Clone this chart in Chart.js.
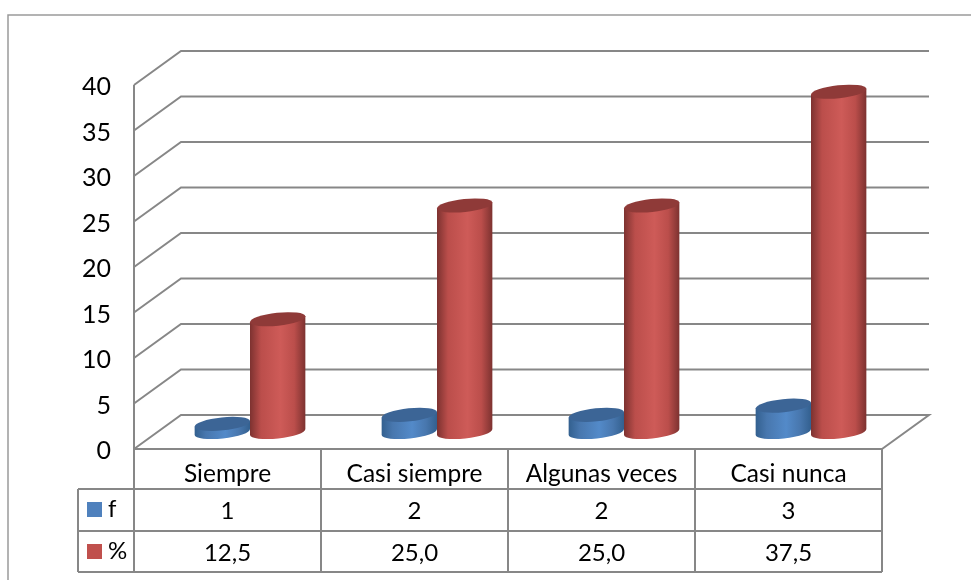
<!DOCTYPE html>
<html>
<head>
<meta charset="utf-8">
<script src="https://cdn.jsdelivr.net/npm/chart.js@4/dist/chart.umd.min.js"></script>
<style>
html, body { margin: 0; padding: 0; background: #fff; overflow: hidden; }
canvas { display: block; }
</style>
</head>
<body>
<canvas id="grafico" width="971" height="580"></canvas>
<script>
// datos
var categorias = ["Siempre", "Casi siempre", "Algunas veces", "Casi nunca"];
var valoresF = [1, 2, 2, 3];
var valoresPct = [12.5, 25.0, 25.0, 37.5];
var textosF = ["1", "2", "2", "3"];
var textosPct = ["12,5", "25,0", "25,0", "37,5"];

// estilo
var GRIS = "#878787";
var FUENTE = "Lato";
var FONDO_X = 47, FONDO_Y = 34; // profundidad del piso 3D
var INCLINA = 0.105;

function linea(ctx, puntos) {
  ctx.beginPath();
  ctx.moveTo(puntos[0][0], puntos[0][1]);
  for (var i = 1; i < puntos.length; i++) ctx.lineTo(puntos[i][0], puntos[i][1]);
  ctx.stroke();
}

function degradado(ctx, x0, x1, c) {
  var g = ctx.createLinearGradient(x0, 0, x1, 0);
  g.addColorStop(0, c[0]);
  g.addColorStop(0.2, c[1]);
  g.addColorStop(0.55, c[2]);
  g.addColorStop(0.8, c[1]);
  g.addColorStop(1, c[0]);
  return g;
}

// cilindro a partir de la barra que calcula Chart.js
function cilindro(ctx, barra, col) {
  var cx = barra.x + 22.5;
  var top = barra.y - 16;
  var base = barra.base - 17;
  var rx = barra.width / 2;
  var ry = 6.5;
  var sube = rx * Math.tan(INCLINA);

  ctx.beginPath();
  ctx.moveTo(cx - rx, top + sube);
  ctx.lineTo(cx - rx, base + sube);
  ctx.ellipse(cx, base, rx / Math.cos(INCLINA), ry, -INCLINA, Math.PI, 0, true);
  ctx.lineTo(cx + rx, top - sube);
  ctx.closePath();
  ctx.fillStyle = degradado(ctx, cx - rx, cx + rx, col.lados);
  ctx.fill();

  ctx.beginPath();
  ctx.ellipse(cx, top, rx / Math.cos(INCLINA), ry, -INCLINA, 0, Math.PI * 2);
  ctx.fillStyle = col.tapa;
  ctx.fill();
}

var colores = [
  { lados: ["#33608f", "#4877ae", "#538ac9"], tapa: "#3c6596", clave: "#4f81bd" },
  { lados: ["#7d3230", "#bb4e4b", "#ce5b58"], tapa: "#8f3a38", clave: "#c0504d" }
];

var escena3d = {
  id: "escena3d",
  beforeDatasetsDraw: function (chart) {
    var ctx = chart.ctx, y = chart.scales.y, a = chart.chartArea;
    ctx.save();
    // marco exterior
    ctx.strokeStyle = "#9a9a9a";
    ctx.lineWidth = 1.5;
    linea(ctx, [[8, 580], [8, 15], [971, 15]]);
    // lineas de division
    ctx.strokeStyle = GRIS;
    ctx.lineWidth = 2;
    y.ticks.forEach(function (t) {
      var py = y.getPixelForValue(t.value);
      if (t.value === 0) return;
      linea(ctx, [[a.left, py], [a.left + FONDO_X, py - FONDO_Y], [a.right + FONDO_X, py - FONDO_Y]]);
    });
    // piso y eje
    linea(ctx, [[a.left, a.top], [a.left, a.bottom]]);
    linea(ctx, [[a.left, a.bottom], [a.left + FONDO_X, a.bottom - FONDO_Y], [a.right + FONDO_X, a.bottom - FONDO_Y], [a.right, a.bottom]]);
    ctx.restore();
  },
  beforeDatasetDraw: function (chart, args) {
    var ctx = chart.ctx;
    ctx.save();
    args.meta.data.forEach(function (barra) {
      cilindro(ctx, barra, colores[args.index]);
    });
    ctx.restore();
    return false;
  },
  afterDatasetsDraw: function (chart) {
    var ctx = chart.ctx, x = chart.scales.x, a = chart.chartArea;
    var izq = 78, filas = [a.bottom, 489, 531, 572];
    ctx.save();
    ctx.strokeStyle = GRIS;
    ctx.lineWidth = 2;
    linea(ctx, [[a.left, a.bottom], [a.right, a.bottom]]);
    linea(ctx, [[izq, filas[1]], [a.right, filas[1]]]);
    linea(ctx, [[izq, filas[2]], [a.right, filas[2]]]);
    linea(ctx, [[izq, filas[3]], [a.right, filas[3]]]);
    linea(ctx, [[izq, filas[1]], [izq, filas[3]]]);
    var ancho = (a.right - a.left) / categorias.length;
    for (var i = 0; i <= categorias.length; i++) {
      linea(ctx, [[a.left + i * ancho, a.bottom], [a.left + i * ancho, filas[3]]]);
    }
    // filas de la tabla de datos
    ctx.fillStyle = "#000";
    ctx.font = "24px " + FUENTE;
    ctx.textBaseline = "middle";
    ctx.textAlign = "center";
    categorias.forEach(function (c, i) {
      var px = x.getPixelForValue(i);
      ctx.fillText(textosF[i], px, 511);
      ctx.fillText(textosPct[i], px, 553);
    });
    // leyenda dentro de la tabla
    ctx.textAlign = "left";
    chart.data.datasets.forEach(function (d, i) {
      var cy = i === 0 ? 509 : 551;
      ctx.fillStyle = colores[i].clave;
      ctx.fillRect(87, cy - 7, 15, 15);
      ctx.fillStyle = "#000";
      ctx.fillText(d.label, 108, cy);
    });
    ctx.restore();
  }
};

new Chart(document.getElementById("grafico"), {
  type: "bar",
  data: {
    labels: categorias,
    datasets: [
      { label: "f", data: valoresF, backgroundColor: "#4f81bd" },
      { label: "%", data: valoresPct, backgroundColor: "#c0504d" }
    ]
  },
  options: {
    responsive: false,
    animation: false,
    categoryPercentage: 0.592,
    barPercentage: 1,
    layout: { padding: { left: 0, right: 89, top: 85, bottom: 0 } },
    plugins: { legend: { display: false }, tooltip: { enabled: false }, title: { display: false } },
    scales: {
      x: {
        grid: { display: false },
        border: { display: false },
        ticks: { color: "#000", font: { family: FUENTE, size: 24.5 }, padding: 2, maxRotation: 0, autoSkip: false },
        afterFit: function (s) { s.height = 131; }
      },
      y: {
        min: 0,
        max: 40,
        grid: { display: false },
        border: { display: false },
        ticks: { stepSize: 5, color: "#000", font: { family: FUENTE, size: 25 }, padding: 15, labelOffset: 2 },
        afterFit: function (s) { s.width = 134; }
      }
    }
  },
  plugins: [escena3d]
});
</script>
</body>
</html>
